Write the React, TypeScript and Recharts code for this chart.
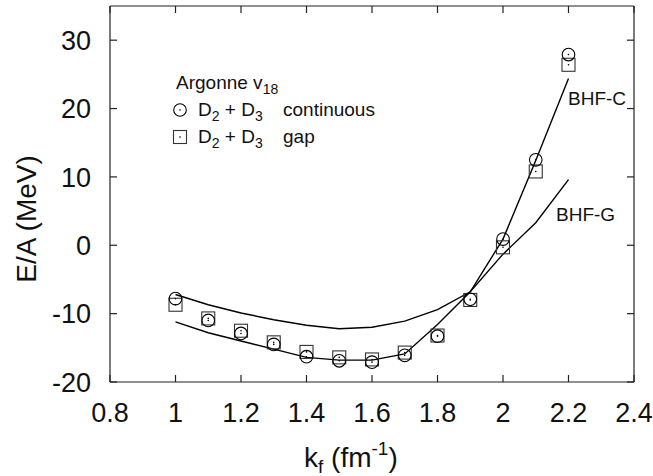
import { ComposedChart, Line, Scatter, XAxis, YAxis } from 'recharts';

// ── Data ─────────────────────────────────────────────────────────────────────
const K_VALUES = [1.0, 1.1, 1.2, 1.3, 1.4, 1.5, 1.6, 1.7, 1.8, 1.9, 2.0, 2.1, 2.2];

// D2 + D3, continuous choice (circles)
const CONT_E = [-7.8, -11.0, -12.9, -14.5, -16.3, -16.9, -17.1, -16.1, -13.3, -7.9, 0.9, 12.5, 27.9];
// D2 + D3, gap choice (squares)
const GAP_E = [-8.7, -10.7, -12.5, -14.2, -15.6, -16.4, -16.7, -15.7, -13.2, -8.0, -0.3, 10.8, 26.4];

const BHF_C = [-11.2, -12.8, -14.0, -15.2, -16.4, -16.8, -16.8, -15.9, -11.6, -6.8, 0.9, 12.4, 24.4];
const BHF_G = [-7.2, -8.7, -9.9, -10.9, -11.7, -12.2, -12.0, -11.1, -9.4, -6.8, -1.3, 3.3, 9.6];

const X_TICKS = [0.8, 1, 1.2, 1.4, 1.6, 1.8, 2, 2.2, 2.4];
const Y_TICKS = [-20, -10, 0, 10, 20, 30];

const curveData = K_VALUES.map((k, i) => ({ k, bhfC: BHF_C[i], bhfG: BHF_G[i] }));
const contData = K_VALUES.map((k, i) => ({ k, e: CONT_E[i] }));
const gapData = K_VALUES.map((k, i) => ({ k, e: GAP_E[i] }));

// ── Style ────────────────────────────────────────────────────────────────────
const FONT = '"Liberation Sans", Arial, Helvetica, sans-serif';
const INK = '#111';
const FRAME = '#222';
const TICK_LEN = 7;
const TICK_FONT = 27;

// ── Tick renderers (inward ticks + labels) ──────────────────────────────────
function BottomTick({ x, y, payload }: any) {
  return (
    <g>
      <line x1={x} x2={x} y1={y} y2={y - TICK_LEN} stroke={FRAME} strokeWidth={1.2} />
      <text x={x} y={y + 40} textAnchor="middle" fontSize={TICK_FONT} fontFamily={FONT} fill={INK}>
        {payload.value}
      </text>
    </g>
  );
}

function TopTick({ x, y }: any) {
  return <line x1={x} x2={x} y1={y} y2={y + TICK_LEN} stroke={FRAME} strokeWidth={1.2} />;
}

function LeftTick({ x, y, payload }: any) {
  return (
    <g>
      <line x1={x} x2={x + TICK_LEN} y1={y} y2={y} stroke={FRAME} strokeWidth={1.2} />
      <text
        x={x - 19}
        y={y}
        dy="0.36em"
        textAnchor="end"
        fontSize={TICK_FONT}
        fontFamily={FONT}
        fill={INK}
      >
        {payload.value}
      </text>
    </g>
  );
}

function RightTick({ x, y }: any) {
  return <line x1={x - TICK_LEN} x2={x} y1={y} y2={y} stroke={FRAME} strokeWidth={1.2} />;
}

// ── Marker shapes ────────────────────────────────────────────────────────────
function CircleMark({ cx, cy }: any) {
  return (
    <g>
      <circle cx={cx} cy={cy} r={6.3} fill="none" stroke="#000" strokeWidth={1.1} />
      <circle cx={cx} cy={cy} r={0.8} fill="#000" />
    </g>
  );
}

function SquareMark({ cx, cy }: any) {
  return (
    <g>
      <rect x={cx - 6.5} y={cy - 6.5} width={13} height={13} fill="none" stroke="#333" strokeWidth={1.1} />
      <circle cx={cx} cy={cy} r={0.8} fill="#000" />
    </g>
  );
}

// ── Overlay: legend, curve labels, axis titles ───────────────────────────────
function Annotations() {
  const txt = { fontFamily: FONT, fill: INK } as const;
  return (
    <svg
      width={653}
      height={476}
      style={{ position: 'absolute', left: 0, top: 0, pointerEvents: 'none' }}
    >
      {/* legend */}
      <text x={176} y={89} fontSize={19} {...txt}>
        Argonne v<tspan fontSize={14} dy={5}>18</tspan>
      </text>
      <CircleMark cx={180} cy={110} />
      <text x={198} y={116} fontSize={19} {...txt}>
        D<tspan fontSize={14} dy={5}>2</tspan>
        <tspan dy={-5}> + D</tspan>
        <tspan fontSize={14} dy={5}>3</tspan>
        <tspan dy={-5} x={283}>continuous</tspan>
      </text>
      <SquareMark cx={180} cy={137} />
      <text x={198} y={143} fontSize={19} {...txt}>
        D<tspan fontSize={14} dy={5}>2</tspan>
        <tspan dy={-5}> + D</tspan>
        <tspan fontSize={14} dy={5}>3</tspan>
        <tspan dy={-5} x={283}>gap</tspan>
      </text>

      {/* curve labels */}
      <text x={568} y={105} fontSize={19} {...txt}>BHF-C</text>
      <text x={556} y={221} fontSize={19} {...txt}>BHF-G</text>

      {/* axis titles */}
      <text x={304} y={467} fontSize={28} {...txt}>
        k<tspan fontSize={19} dy={6}>f</tspan>
        <tspan dy={-6}> (fm</tspan>
        <tspan fontSize={19} dy={-12}>-1</tspan>
        <tspan dy={12}>)</tspan>
      </text>
      <text
        x={0}
        y={0}
        fontSize={28}
        textAnchor="middle"
        transform="translate(36 219) rotate(-90)"
        {...txt}
      >
        E/A (MeV)
      </text>
    </svg>
  );
}

export default function App() {
  return (
    <div style={{ position: 'absolute', left: 0, top: 0, width: 653, height: 476, background: '#fff' }}>
      <ComposedChart
        width={653}
        height={476}
        data={curveData}
        margin={{ top: 5, right: 0, bottom: 0, left: 0 }}
      >
        <XAxis
          dataKey="k"
          type="number"
          domain={[0.8, 2.4]}
          ticks={X_TICKS}
          height={94}
          tickSize={0}
          tickMargin={0}
          tick={<BottomTick />}
          stroke={FRAME}
          strokeWidth={1.2}
          interval={0}
        />
        <XAxis
          xAxisId="top"
          orientation="top"
          dataKey="k"
          type="number"
          domain={[0.8, 2.4]}
          ticks={X_TICKS}
          height={1}
          tickSize={0}
          tickMargin={0}
          tick={<TopTick />}
          stroke={FRAME}
          strokeWidth={1.2}
          interval={0}
        />
        <YAxis
          type="number"
          domain={[-20, 35]}
          ticks={Y_TICKS}
          width={110}
          tickSize={0}
          tickMargin={0}
          tick={<LeftTick />}
          stroke={FRAME}
          strokeWidth={1.2}
          interval={0}
        />
        <YAxis
          yAxisId="right"
          orientation="right"
          type="number"
          domain={[-20, 35]}
          ticks={Y_TICKS}
          width={19}
          tickSize={0}
          tickMargin={0}
          tick={<RightTick />}
          stroke={FRAME}
          strokeWidth={1.2}
          interval={0}
        />
        {/* invisible series that binds the mirrored top/right axes */}
        <Line
          xAxisId="top"
          yAxisId="right"
          dataKey="bhfG"
          type="linear"
          stroke="none"
          dot={false}
          activeDot={false}
          legendType="none"
          isAnimationActive={false}
        />
        <Line
          dataKey="bhfC"
          type="linear"
          stroke="#000"
          strokeWidth={1.4}
          dot={false}
          activeDot={false}
          isAnimationActive={false}
        />
        <Line
          dataKey="bhfG"
          type="linear"
          stroke="#000"
          strokeWidth={1.4}
          dot={false}
          activeDot={false}
          isAnimationActive={false}
        />
        <Scatter data={gapData} dataKey="e" shape={<SquareMark />} isAnimationActive={false} />
        <Scatter data={contData} dataKey="e" shape={<CircleMark />} isAnimationActive={false} />
      </ComposedChart>
      <Annotations />
    </div>
  );
}
